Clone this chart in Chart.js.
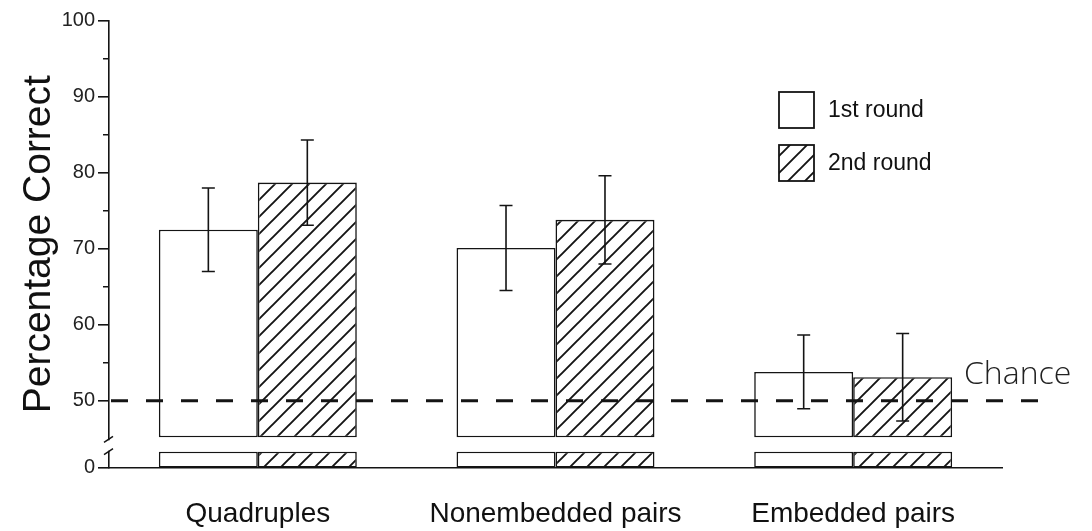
<!DOCTYPE html>
<html>
<head>
<meta charset="utf-8">
<script src="https://cdn.jsdelivr.net/npm/chart.js@4.4.1/dist/chart.umd.min.js"></script>
<style>
  body { margin: 0; background: #fff; }
</style>
</head>
<body>
<canvas id="myChart" width="1092" height="531"></canvas>
<script>
const categories = ['Quadruples', 'Nonembedded pairs', 'Embedded pairs'];
const round1 = [72.5, 70.1, 53.8];
const round2 = [78.7, 73.8, 53.1];
const err1 = [5.5, 5.6, 4.85];
const err2 = [5.6, 5.8, 5.75];
const tickValues = [41.2, 50, 60, 70, 80, 90, 100];
const tickLabels = ['0', '50', '60', '70', '80', '90', '100'];
const minorTicks = [55, 65, 75, 85, 95];
const chance = 50;

// broken axis: the "0" sits at the bottom, bars are cut between stubTop and barBase
const axisMin = 41.2;
const stubTop = 43.3;
const barBase = 45.2;

const ink = '#141414';

function makeHatch() {
  const s = 17;
  const c = document.createElement('canvas');
  c.width = s; c.height = s;
  const g = c.getContext('2d');
  g.fillStyle = '#fff';
  g.fillRect(0, 0, s, s);
  g.strokeStyle = ink;
  g.lineWidth = 1.9;
  g.beginPath();
  g.moveTo(-2, s + 2); g.lineTo(s + 2, -2);
  g.moveTo(-2, 2); g.lineTo(2, -2);
  g.moveTo(s - 2, s + 2); g.lineTo(s + 2, s - 2);
  g.stroke();
  return g.createPattern(c, 'repeat');
}
const hatch = makeHatch();

const extras = {
  id: 'extras',
  afterDatasetsDraw(chart) {
    const ctx = chart.ctx;
    const y = chart.scales.y;
    const area = chart.chartArea;
    ctx.save();

    // error bars
    ctx.strokeStyle = ink;
    ctx.lineWidth = 1.6;
    [[0, round1, err1], [2, round2, err2]].forEach(([di, vals, errs]) => {
      chart.getDatasetMeta(di).data.forEach((bar, i) => {
        const top = y.getPixelForValue(vals[i] + errs[i]);
        const bot = y.getPixelForValue(vals[i] - errs[i]);
        ctx.beginPath();
        ctx.moveTo(bar.x, top); ctx.lineTo(bar.x, bot);
        ctx.moveTo(bar.x - 6.5, top); ctx.lineTo(bar.x + 6.5, top);
        ctx.moveTo(bar.x - 6.5, bot); ctx.lineTo(bar.x + 6.5, bot);
        ctx.stroke();
      });
    });

    // chance line
    const cy = y.getPixelForValue(chance);
    ctx.lineWidth = 3;
    ctx.setLineDash([17, 18]);
    ctx.beginPath();
    ctx.moveTo(area.left + 2, cy);
    ctx.lineTo(area.right + 48, cy);
    ctx.stroke();
    ctx.setLineDash([]);

    ctx.fillStyle = '#222';
    ctx.font = '300 32px "Open Sans"';
    ctx.textAlign = 'left';
    ctx.textBaseline = 'middle';
    ctx.fillText('Chance', area.right - 38, cy - 26);

    // minor ticks
    ctx.lineWidth = 1.5;
    ctx.beginPath();
    minorTicks.forEach(v => {
      const py = y.getPixelForValue(v);
      ctx.moveTo(area.left - 6, py); ctx.lineTo(area.left, py);
    });
    ctx.stroke();

    // axis break
    const b1 = y.getPixelForValue(barBase) + 2;
    const b2 = y.getPixelForValue(stubTop);
    ctx.fillStyle = '#fff';
    ctx.fillRect(area.left - 2, b1 + 1, 4, b2 - b1 - 2);
    ctx.beginPath();
    [b1, b2].forEach(py => {
      ctx.moveTo(area.left - 5, py + 3); ctx.lineTo(area.left + 4, py - 3);
    });
    ctx.stroke();

    // legend
    const lx = area.left + 670;
    [[0, 92], [2, 145]].forEach(([di, ly]) => {
      const ds = chart.data.datasets[di];
      ctx.fillStyle = ds.backgroundColor;
      ctx.fillRect(lx, ly, 35, 36);
      ctx.strokeStyle = ink;
      ctx.lineWidth = 1.8;
      ctx.strokeRect(lx, ly, 35, 36);
      ctx.fillStyle = '#111';
      ctx.font = '23px "Liberation Sans"';
      ctx.fillText(ds.label, lx + 49, ly + 19);
    });

    ctx.restore();
  }
};

Chart.defaults.font.family = '"Liberation Sans", Arial, sans-serif';
Chart.defaults.color = '#222';

const myChart = document.getElementById('myChart');
new Chart(myChart, {
  type: 'bar',
  data: {
    labels: categories,
    datasets: [
      { label: '1st round', data: round1.map(v => [barBase, v]), stack: 'r1', backgroundColor: '#fff' },
      { label: '', data: categories.map(() => [axisMin, stubTop]), stack: 'r1', backgroundColor: '#fff' },
      { label: '2nd round', data: round2.map(v => [barBase, v]), stack: 'r2', backgroundColor: hatch },
      { label: '', data: categories.map(() => [axisMin, stubTop]), stack: 'r2', backgroundColor: hatch }
    ]
  },
  options: {
    responsive: false,
    animation: false,
    layout: { padding: { top: 20.7, right: 90, left: 0, bottom: 0 } },
    datasets: {
      bar: {
        borderColor: ink,
        borderWidth: 1.6,
        borderSkipped: false,
        categoryPercentage: 0.665,
        barPercentage: 1
      }
    },
    plugins: {
      legend: { display: false },
      tooltip: { enabled: false }
    },
    scales: {
      x: {
        grid: { display: false },
        border: { display: true, color: ink, width: 1.6 },
        ticks: { font: { size: 28 }, color: '#111', padding: 22 },
        afterFit: s => { s.height = 63.3; }
      },
      y: {
        min: axisMin,
        max: 100,
        stacked: false,
        afterBuildTicks: s => { s.ticks = tickValues.map(v => ({ value: v })); },
        ticks: {
          callback: v => tickLabels[tickValues.indexOf(v)],
          font: { size: 20 },
          color: '#222',
          padding: 3
        },
        grid: { drawOnChartArea: false, drawTicks: true, tickLength: 11, color: ink, lineWidth: 1.6 },
        border: { display: true, color: ink, width: 1.6 },
        title: {
          display: true,
          text: 'Percentage Correct',
          font: { size: 39 },
          color: '#111',
          padding: { top: 16, bottom: 0 }
        },
        afterFit: s => { s.width = 109; }
      }
    }
  },
  plugins: [extras]
});
</script>
</body>
</html>
